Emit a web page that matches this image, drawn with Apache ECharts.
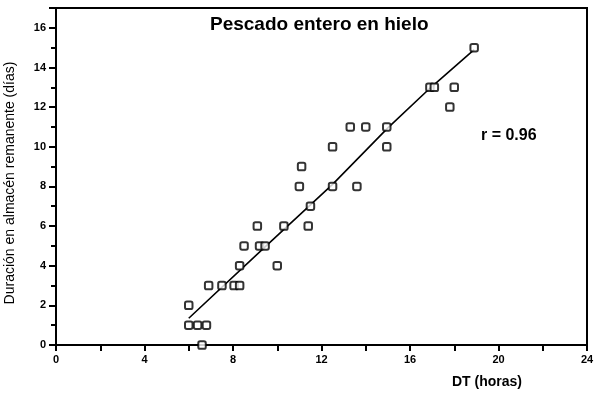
<!DOCTYPE html>
<html><head><meta charset="utf-8">
<script src="https://cdn.jsdelivr.net/npm/echarts@6/dist/echarts.min.js"></script>
<style>html,body{margin:0;padding:0;background:#fff}#c{width:605px;height:399px}</style>
</head><body><div id="c"></div>
<script>
const dtHours = [6, 6, 6.4, 6.8, 6.6, 6.9, 7.5, 8.05, 8.3, 8.3, 8.5, 9.1, 9.2, 9.45, 10, 10.3, 11, 11.1, 11.4, 11.5, 12.5, 12.5, 13.3, 13.6, 14, 14.95, 14.95, 16.9, 17.1, 18, 17.8, 18.9];
const shelfDays = [2, 1, 1, 1, 0, 3, 3, 3, 3, 4, 5, 6, 5, 5, 4, 6, 8, 9, 6, 7, 8, 10, 11, 8, 11, 11, 10, 13, 13, 13, 12, 15];
const fitX = [6, 9.45, 12.5, 15, 16.9, 18.9];
const fitY = [1.35, 4.95, 8.1, 10.95, 12.95, 14.9];
const titleText = 'Pescado entero en hielo';
const rText = 'r = 0.96';
const xName = 'DT (horas)';
const yName = 'Duración en almacén remanente (días)';

const chart = echarts.init(document.getElementById('c'));
const font = 'Liberation Sans, Arial, sans-serif';
chart.setOption({
  animation: false,
  backgroundColor: '#fff',
  grid: {left: 56, right: 18, top: 8, bottom: 54, outerBoundsMode: 'none', containLabel: false,
         show: true, borderColor: '#000', borderWidth: 2, backgroundColor: 'transparent'},
  xAxis: {
    type: 'value', min: 0, max: 24, interval: 4,
    axisLine: {onZero: false, lineStyle: {color: '#000', width: 2}},
    axisTick: {inside: false, length: 6, lineStyle: {color: '#000', width: 2}},
    minorTick: {show: true, splitNumber: 2, length: 6, lineStyle: {color: '#000', width: 2}},
    splitLine: {show: false},
    axisLabel: {color: '#000', fontFamily: font, fontWeight: 'bold', fontSize: 11, margin: 9}
  },
  yAxis: {
    type: 'value', min: 0, max: 17, interval: 2,
    axisLine: {onZero: false, lineStyle: {color: '#000', width: 2}},
    axisTick: {length: 7, lineStyle: {color: '#000', width: 2}},
    minorTick: {show: true, splitNumber: 2, length: 5, lineStyle: {color: '#000', width: 2}},
    splitLine: {show: false},
    axisLabel: {color: '#000', fontFamily: font, fontWeight: 'bold', fontSize: 11, margin: 10, showMaxLabel: false}
  },
  graphic: [
    {type: 'text', x: 210, y: 15, style: {text: titleText, fill: '#000', font: 'bold 19px ' + font}},
    {type: 'text', x: 481, y: 128, style: {text: rText, fill: '#000', font: 'bold 16px ' + font}},
    {type: 'text', x: 452, y: 375, style: {text: xName, fill: '#000', font: 'bold 14px ' + font}},
    {type: 'text', x: 10, y: 183, rotation: Math.PI / 2,
     style: {text: yName, fill: '#000', font: '14px ' + font, align: 'center', verticalAlign: 'middle'}}
  ],
  series: [
    {type: 'line', data: fitX.map((x, i) => [x, fitY[i]]), showSymbol: false, symbol: 'none',
     lineStyle: {color: '#000', width: 1.6}, z: 2},
    {type: 'scatter', data: dtHours.map((x, i) => [x, shelfDays[i]]), symbol: 'roundRect', symbolSize: 7.5,
     itemStyle: {color: '#fff', borderColor: '#000', borderWidth: 2}, z: 3}
  ]
});
</script></body></html>
